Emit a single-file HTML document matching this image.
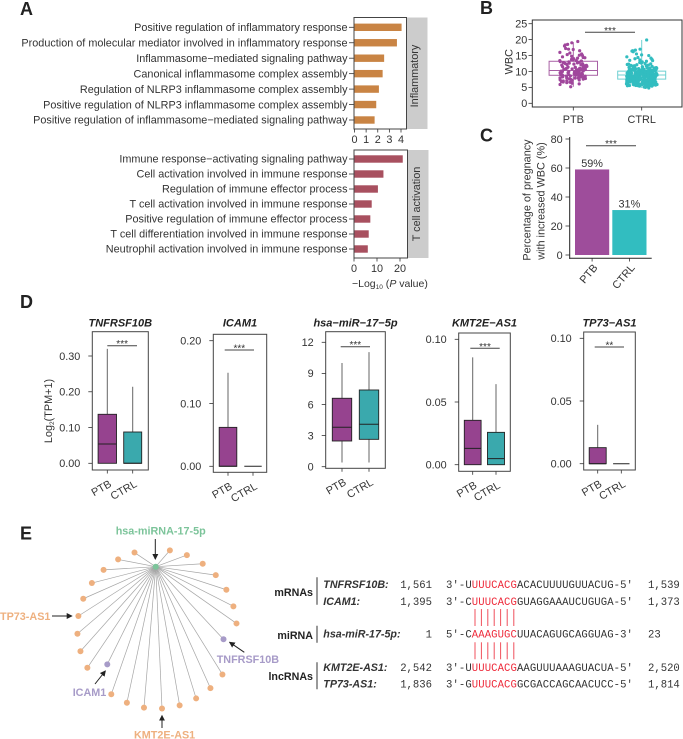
<!DOCTYPE html>
<html lang="en">
<head>
<meta charset="utf-8">
<title>Multi-panel PTB versus CTRL figure</title>
<style>
html,body{margin:0;padding:0;background:#fff}
body{width:683px;height:739px;overflow:hidden}
svg{display:block;font-family:"Liberation Sans",Arial,sans-serif}
.letter{font-size:18px;font-weight:700;fill:#222}
.netlab{font-size:10.8px;font-weight:700}
.grp{font-size:10.7px;font-weight:700;fill:#222;text-anchor:end}
.nm{font-size:10.7px;font-weight:700;font-style:italic;fill:#333}
.mono{font-family:"Liberation Mono",monospace;font-size:10.6px;fill:#333}
.seq{letter-spacing:.09px}
.red{fill:#ee2a3a}
</style>
</head>
<body>
<svg id="fig" width="683" height="739" viewBox="0 0 683 739">
  <text class="letter" x="20" y="15">A</text>
  <text class="letter" x="480" y="14">B</text>
  <text class="letter" x="480" y="141.5">C</text>
  <text class="letter" x="20" y="308">D</text>
  <text class="letter" x="20" y="539.5">E</text>

  <g id="network"></g>
  <g>
    <text class="netlab" x="160.7" y="534.5" text-anchor="middle" fill="#7cc49a">hsa-miRNA-17-5p</text>
    <text class="netlab" x="0" y="619.8" fill="#eeb07f">TP73-AS1</text>
    <text class="netlab" x="216.7" y="662.8" fill="#a79bc8">TNFRSF10B</text>
    <text class="netlab" x="72.7" y="695.8" fill="#a79bc8">ICAM1</text>
    <text class="netlab" x="134" y="738.6" fill="#eeb07f">KMT2E-AS1</text>
  </g>
  <defs>
    <marker id="ah" markerWidth="6" markerHeight="6" refX="5" refY="3" orient="auto" markerUnits="userSpaceOnUse"><path d="M0 0L6 3L0 6Z" fill="#222"/></marker>
  </defs>
  <g stroke="#222" stroke-width="1">
    <line x1="155.3" y1="539" x2="155.3" y2="559" marker-end="url(#ah)"/>
    <line x1="52" y1="616" x2="71.7" y2="616" marker-end="url(#ah)"/>
    <line x1="244.3" y1="652.3" x2="229.7" y2="642.3" marker-end="url(#ah)"/>
    <line x1="95" y1="684" x2="105.3" y2="671" marker-end="url(#ah)"/>
    <line x1="162" y1="728" x2="162" y2="715.7" marker-end="url(#ah)"/>
  </g>

  <g>
    <text class="grp" x="313" y="596">mRNAs</text>
    <text class="grp" x="313" y="639">miRNA</text>
    <text class="grp" x="313" y="680">lncRNAs</text>
    <g stroke="#333" stroke-width="1">
      <line x1="317" y1="577.3" x2="317" y2="604.7"/>
      <line x1="317" y1="625.7" x2="317" y2="642.7"/>
      <line x1="317" y1="662.3" x2="317" y2="689.3"/>
    </g>
    <text class="nm" x="323.3" y="587.8">TNFRSF10B:</text>
    <text class="nm" x="323.3" y="604.8">ICAM1:</text>
    <text class="nm" x="323.3" y="637.5">hsa-miR-17-5p:</text>
    <text class="nm" x="323.3" y="670.8">KMT2E-AS1:</text>
    <text class="nm" x="323.3" y="687.5">TP73-AS1:</text>

    <g text-anchor="end">
      <text class="mono" x="432" y="587.8">1,561</text>
      <text class="mono" x="432" y="604.8">1,395</text>
      <text class="mono" x="432" y="637.5">1</text>
      <text class="mono" x="432" y="670.8">2,542</text>
      <text class="mono" x="432" y="687.5">1,836</text>
    </g>
    <text class="mono" x="648" y="587.8">1,539</text>
    <text class="mono" x="648" y="604.8">1,373</text>
    <text class="mono" x="648" y="637.5">23</text>
    <text class="mono" x="648" y="670.8">2,520</text>
    <text class="mono" x="648" y="687.5">1,814</text>

    <text class="mono seq" x="446" y="587.8">3'-U<tspan class="red">UUUCACG</tspan>ACACUUUUGUUACUG-5'</text>
    <text class="mono seq" x="446" y="604.8">3'-C<tspan class="red">UUUCACG</tspan>GUAGGAAAUCUGUGA-5'</text>
    <text class="mono seq" x="446" y="637.5">5'-C<tspan class="red">AAAGUGC</tspan>UUACAGUGCAGGUAG-3'</text>
    <text class="mono seq" x="446" y="670.8">3'-U<tspan class="red">UUUCACG</tspan>AAGUUUAAAGUACUA-5'</text>
    <text class="mono seq" x="446" y="687.5">3'-G<tspan class="red">UUUCACG</tspan>GCGACCAGCAACUCC-5'</text>

    <g stroke="#f0505c" stroke-width="1">
      <line x1="475" y1="609" x2="475" y2="626"/><line x1="481.4" y1="609" x2="481.4" y2="626"/><line x1="487.8" y1="609" x2="487.8" y2="626"/><line x1="494.2" y1="609" x2="494.2" y2="626"/><line x1="500.6" y1="609" x2="500.6" y2="626"/><line x1="507.2" y1="609" x2="507.2" y2="626"/><line x1="513.8" y1="609" x2="513.8" y2="626"/>
    </g>
    <g stroke="#f0505c" stroke-width="1">
      <line x1="475" y1="642.3" x2="475" y2="659.3"/><line x1="481.4" y1="642.3" x2="481.4" y2="659.3"/><line x1="487.8" y1="642.3" x2="487.8" y2="659.3"/><line x1="494.2" y1="642.3" x2="494.2" y2="659.3"/><line x1="500.6" y1="642.3" x2="500.6" y2="659.3"/><line x1="507.2" y1="642.3" x2="507.2" y2="659.3"/><line x1="513.8" y1="642.3" x2="513.8" y2="659.3"/>
    </g>
  </g>
</svg>

<script>
/* ---------- Panel A data ---------- */
const inflammatoryTerms = ["Positive regulation of inflammatory response","Production of molecular mediator involved in inflammatory response","Inflammasome\u2212mediated signaling pathway","Canonical inflammasome complex assembly","Regulation of NLRP3 inflammasome complex assembly","Positive regulation of NLRP3 inflammasome complex assembly","Positive regulation of inflammasome\u2212mediated signaling pathway"];
const inflammatoryValues = [4.05,3.65,2.55,2.42,2.1,1.87,1.73];
const inflammatoryTicks = [0,1,2,3,4];
const tcellTerms = ["Immune response\u2212activating signaling pathway","Cell activation involved in immune response","Regulation of immune effector process","T cell activation involved in immune response","Positive regulation of immune effector process","T cell differentiation involved in immune response","Neutrophil activation involved in immune response"];
const tcellValues = [21.2,12.8,10.4,7.7,7.1,6.4,6.0];
const tcellTicks = [0,10,20];

/* ---------- Panel B data ---------- */
const wbcTicks = [0,5,10,15,20,25];
const wbcCategories = ["PTB","CTRL"];
const wbcQ1 = [8.8,7.6];
const wbcMedian = [10.3,8.9];
const wbcQ3 = [13.2,10.1];
const wbcLow = [5.2,4.8];
const wbcHigh = [19.2,19.9];
const ptbWbc = [19.4,19.0,18.5,18.3,18.0,17.2,17.0,16.9,16.5,16.0,15.8,15.5,15.3,15.0,14.8,14.6,14.4,14.2,14.0,13.9,13.7,13.6,13.4,13.3,13.1,13.0,12.9,12.8,12.7,12.5,12.4,12.3,12.2,12.0,11.9,11.8,11.7,11.6,11.5,11.4,11.3,11.2,11.1,11.0,10.9,10.8,10.8,10.7,10.6,10.5,10.5,10.4,10.3,10.2,10.2,10.1,10.0,10.0,9.9,9.8,9.8,9.7,9.6,9.6,9.5,9.4,9.4,9.3,9.2,9.2,9.1,9.0,9.0,8.9,8.9,8.8,8.7,8.7,8.6,8.5,8.5,8.4,8.3,8.2,8.2,8.1,8.0,8.0,7.9,7.8,7.7,7.6,7.5,7.4,7.3,7.2,7.1,7.0,6.9,6.8,6.7,6.5,6.3,6.1,5.9,5.2,11.6,12.6,10.9,9.7,8.6,13.4,11.1,9.3,7.9,10.6,12.1,14.3,8.3,6.6,15.1,10.0,11.3,9.0];
const ctrlWbc = [19.9,17.0,16.7,16.5,16.4,16.2,15.5,15.2,15.0,14.6,14.4,14.2,14.0,13.8,13.6,13.5,13.4,13.2,13.0,12.9,12.8,12.6,12.5,12.4,12.2,12.1,12.0,11.9,11.8,11.7,11.6,11.5,11.4,11.3,11.2,11.1,11.0,11.0,10.9,10.8,10.7,10.7,10.6,10.5,10.5,10.4,10.3,10.3,10.2,10.2,10.1,10.1,10.0,10.0,9.9,9.9,9.8,9.8,9.7,9.7,9.6,9.6,9.5,9.5,9.4,9.4,9.3,9.3,9.2,9.2,9.1,9.1,9.0,9.0,8.9,8.9,8.9,8.8,8.8,8.7,8.7,8.6,8.6,8.5,8.5,8.5,8.4,8.4,8.3,8.3,8.2,8.2,8.2,8.1,8.1,8.0,8.0,7.9,7.9,7.8,7.8,7.8,7.7,7.7,7.6,7.6,7.5,7.5,7.4,7.4,7.3,7.3,7.2,7.2,7.1,7.1,7.0,7.0,6.9,6.9,6.8,6.8,6.7,6.7,6.6,6.6,6.5,6.5,6.4,6.4,6.3,6.3,6.2,6.2,6.1,6.1,6.0,6.0,5.9,5.8,5.7,5.6,5.5,5.4,5.3,5.2,5.1,5.0,4.8,9.0,8.6,9.4,8.2,7.6,10.2,7.2,6.8,9.8,8.8,7.4,8.4,6.4,9.2,7.8,6.0,10.6,8.0,7.0,9.6,8.3,5.6,11.2,7.5,9.1,6.6,8.7,10.0,6.2,8.9,7.7,9.3,6.9,8.5,7.3,9.7,6.3,8.1,7.9,9.5,5.9,8.6,7.1,10.4,6.7,8.8,7.5,9.9,6.1,8.2,10.8,7.4,9.0,6.5,8.4,7.6,9.2,5.7,11.6,8.0,6.8,9.1,7.2,8.5,5.8,10.3,7.7,6.4,9.4,8.1,6.0,8.9,7.3,10.1,5.5,8.3,6.6,9.7,7.9,6.2,8.7,7.0,9.3,5.9,10.5,7.5,6.9,8.0,9.0,6.3,7.8,8.6,5.6,9.5,7.1,10.7,6.7,8.2,7.4,9.8,6.1,8.8,7.6,5.7,9.2,6.5,8.4,10.0,7.2,6.0,9.6,7.7,8.5,5.4,6.8,9.1,7.3,10.9,8.1,6.2,8.9,7.0,9.4,5.8,7.9,8.3,6.6,11.0,7.5,9.9,6.4,8.6,7.1,5.6,10.2,8.0,6.9,9.3,7.6,8.7,6.1,11.4,7.4,9.0,5.9,8.2,6.7,9.7,7.8,6.3,8.4,10.4,7.2,5.5,9.5,8.8,6.5,7.0,12.3,9.2,6.0,8.5,7.7,10.6,6.8,8.1,5.7,9.8,7.3,8.9,11.8,6.2,7.5,9.4,8.3,6.6,10.1];

/* ---------- Panel C data ---------- */
const pctCategories = ["PTB","CTRL"];
const pctValues = [59,31];
const pctLabels = ["59%","31%"];
const pctTicks = [0,20,40,60,80];

/* ---------- Panel D data ---------- */
const geneTitles = ["TNFRSF10B","ICAM1","hsa\u2212miR\u221217\u22125p","KMT2E\u2212AS1","TP73\u2212AS1"];
const geneTickValues = [[0,0.1,0.2,0.3],[0,0.1,0.2],[0,3,6,9,12],[0,0.05,0.1],[0,0.05,0.1]];
const geneTickLabels = [["0.00","0.10","0.20","0.30"],["0.00","0.10","0.20"],["0","3","6","9","12"],["0.00","0.05","0.10"],["0.00","0.05","0.10"]];
const geneStars = ["***","***","***","***","**"];
const geneQ1 = [[0,0],[0,0],[2.48,2.64],[0,0],[0,0]];
const geneMedian = [[0.054,0],[0,0],[3.8,4.1],[0.013,0.0048],[0,0]];
const geneQ3 = [[0.137,0.0875],[0.062,0],[6.6,7.4],[0.0354,0.0258],[0.0128,0]];
const geneLow = [[0,0],[0,0],[0.4,0.4],[0,0],[0,0]];
const geneHigh = [[0.32,0.214],[0.149,0],[10,11.05],[0.0856,0.0643],[0.031,0]];

/* ---------- Panel E data (clockwise degrees from top, and ring radius) ---------- */
const nodeAngles = [-16.4,9.3,22,35,47.5,60.5,73.5,86,98.8,124.8,137.9,150.6,163.5,176.4,189.4,202.2,215,234.6,240.9,253.8,266.6,279.4,292.3,305.2,317.9,330.8];
const nodeRadii = [79.7,79.7,79.7,79.7,79.7,79.7,79.7,79.7,67.3,79.7,79.7,79.7,79.7,79.7,79.7,79.7,79.7,61,79.7,79.7,79.7,79.7,79.7,79.7,79.7,79.7];
const nodeKinds = ["l","l","l","l","l","l","l","l","m","l","l","l","l","l","l","l","l","m","l","l","l","l","l","l","l","l"];

/* ---------- Primitives ---------- */
const NS = "http://www.w3.org/2000/svg";
const fig = document.getElementById("fig");
const INK = "#333";
function makeLine(p,x1,y1,x2,y2,stroke,w,name){
  const el = document.createElementNS(NS,"line");
  el.setAttribute("x1",x1); el.setAttribute("y1",y1); el.setAttribute("x2",x2); el.setAttribute("y2",y2);
  el.setAttribute("stroke",stroke); el.setAttribute("stroke-width",w);
  
  
  p.appendChild(el); return el;
}
function makeRect(p,x,y,w,h,fill,stroke,sw,name){
  const el = document.createElementNS(NS,"rect");
  el.setAttribute("x",x); el.setAttribute("y",y); el.setAttribute("width",w); el.setAttribute("height",h);
  el.setAttribute("fill",fill); el.setAttribute("stroke",stroke); el.setAttribute("stroke-width",sw);
  
  
  p.appendChild(el); return el;
}
function makeText(p,x,y,str,anchor,size,name,extra){
  const el = document.createElementNS(NS,"text");
  el.setAttribute("x",x); el.setAttribute("y",y);
  el.setAttribute("text-anchor",anchor); el.setAttribute("font-size",size); el.setAttribute("fill",INK);
  if(extra){ for(const k in extra){ el.setAttribute(k,extra[k]); } }
  el.textContent = str;
  
  
  p.appendChild(el); return el;
}
function makeDot(p,x,y,r,fill,name){
  const el = document.createElementNS(NS,"circle");
  el.setAttribute("cx",x); el.setAttribute("cy",y); el.setAttribute("r",r); el.setAttribute("fill",fill);
  
  
  p.appendChild(el); return el;
}
function makeGroup(p,name){
  const el = document.createElementNS(NS,"g");
  
  
  p.appendChild(el); return el;
}
function linear(d0,r0,d1,r1){ return v => r0 + (v-d0)*(r1-r0)/(d1-d0); }
const TS = 10.85;

/* ---------- Panel A ---------- */
function drawFacet(key,terms,values,ticks,color,box,rowTop,rowStep,x,strip,stripX,stripY){
  const g = makeGroup(fig,"panel-a-"+key);
  makeRect(g,box.r+0.5,box.t,20.5,box.b-box.t,"#cccccc","none",0,"strip-"+key);
  values.forEach((v,i)=>{
    const y = rowTop + i*rowStep;
    makeRect(g,x(0),y-3.7,x(v)-x(0),7.4,color,"none",0,"bar-"+key+"-"+i);
    makeLine(g,box.l-5,y,box.l,y,INK,0.8,"y-tick-"+key+"-"+i);
    makeText(g,box.l-6.5,y+3.7,terms[i],"end",TS,"term-label-"+key+"-"+i);
  });
  makeRect(g,box.l,box.t,box.r-box.l,box.b-box.t,"none","#444",1,"plot-border-"+key);
  ticks.forEach(t=>{
    makeLine(g,x(t),box.b,x(t),box.b+3.5,INK,0.8,"x-tick-"+key+"-"+t);
    makeText(g,x(t),box.b+14,String(t),"middle",TS,"x-tick-label-"+key+"-"+t);
  });
  makeText(g,stripX,stripY,strip,"middle",TS,"strip-label-"+key,{transform:"rotate(-90 "+stripX+" "+stripY+")"});
}
drawFacet("inflammatory",inflammatoryTerms,inflammatoryValues,inflammatoryTicks,"#c98444",{l:354,r:406.5,t:17.5,b:129},27.3,15.45,linear(0,354.5,4,401),"Inflammatory",418,76);
drawFacet("tcell",tcellTerms,tcellValues,tcellTicks,"#a8505f",{l:354,r:407.5,t:150,b:258},159,15,linear(0,354,20,400),"T cell activation",420,204);
(function(){
  const el = makeText(fig,352,287,"\u2212Log","start",10.5,"x-axis-title-panel-a");
  const s1 = document.createElementNS(NS,"tspan"); s1.setAttribute("font-size","6.5"); s1.setAttribute("dy","2"); s1.textContent="10"; el.appendChild(s1);
  const s2 = document.createElementNS(NS,"tspan"); s2.setAttribute("dy","-2"); s2.textContent=" ("; el.appendChild(s2);
  const s3 = document.createElementNS(NS,"tspan"); s3.setAttribute("font-style","italic"); s3.textContent="P"; el.appendChild(s3);
  const s4 = document.createElementNS(NS,"tspan"); s4.textContent=" value)"; el.appendChild(s4);
})();

/* ---------- Sig bracket ---------- */
function drawSig(g,x1,x2,y,stars,key){
  makeLine(g,x1,y,x2,y,"#444",1,"significance-line-"+key);
  makeText(g,(x1+x2)/2,y+1.5,stars,"middle",10,"significance-stars-"+key);
}

/* ---------- Panel B ---------- */
(function(){
  const g = makeGroup(fig,"panel-b-wbc-boxplot");
  const y = linear(0,103.3,25,23.7);
  const cx = [573.3,641.7];
  const hw = [24.2,24];
  const cols = ["#a0479c","#32bdc0"];
  const lite = ["#a860a5","#6fd0d2"];
  const spread = [14,15.5];
  wbcCategories.forEach((c,i)=>{
    makeLine(g,cx[i],y(wbcLow[i]),cx[i],y(wbcHigh[i]),lite[i],1,"whisker-"+c);
    makeRect(g,cx[i]-hw[i],y(wbcQ3[i]),2*hw[i],y(wbcQ1[i])-y(wbcQ3[i]),"#fff",lite[i],1,"box-"+c);
    makeLine(g,cx[i]-hw[i],y(wbcMedian[i]),cx[i]+hw[i],y(wbcMedian[i]),lite[i],1,"median-"+c);
  });
  [ptbWbc,ctrlWbc].forEach((arr,s)=>{
    arr.forEach((v,i)=>{
      const frac = (i*0.7548 + i*i*0.0317 + 0.66)%1;
      const jit = (frac-0.5)*2*spread[s];
      makeDot(g,cx[s]+jit,y(v),1.6,cols[s],"point-"+wbcCategories[s]+"-"+i);
    });
  });
  makeRect(g,532.3,20,149.7,87,"none","#333",1,"plot-border-b");
  wbcTicks.forEach(t=>{
    makeLine(g,528.5,y(t),532.3,y(t),INK,0.8,"y-tick-b-"+t);
    makeText(g,527.3,y(t)+3.8,String(t),"end",TS,"y-tick-label-b-"+t);
  });
  wbcCategories.forEach((c,i)=>{
    makeLine(g,cx[i],107,cx[i],110.5,INK,0.8,"x-tick-b-"+c);
    makeText(g,cx[i],122.8,c,"middle",TS,"x-tick-label-b-"+c);
  });
  makeText(g,512.5,61.7,"WBC","middle",TS,"y-axis-title-b",{transform:"rotate(-90 512.5 61.7)"});
  drawSig(g,585,635,32.3,"***","b");
})();

/* ---------- Panel C ---------- */
(function(){
  const g = makeGroup(fig,"panel-c-percentage-bars");
  const y = linear(0,255,80,139);
  const left = [575,612.3];
  const w = 34.2;
  const cols = ["#9e4d9b","#32bdc0"];
  pctValues.forEach((v,i)=>{
    makeRect(g,left[i],y(v),w,y(0)-y(v),cols[i],"none",0,"bar-"+pctCategories[i]);
    makeText(g,left[i]+w/2,y(v)-2.5,pctLabels[i],"middle",TS,"bar-value-"+pctCategories[i]);
    const c = left[i]+w/2;
    makeLine(g,c,258.3,c,261.5,INK,0.8,"x-tick-c-"+pctCategories[i]);
    makeText(g,c+6,268,pctCategories[i],"end",TS,"x-tick-label-c-"+pctCategories[i],{transform:"rotate(-50 "+(c+6)+" 268)"});
  });
  makeLine(g,569.7,137,569.7,258.8,"#222",1,"y-axis-c");
  makeLine(g,569.2,258.3,651.7,258.3,"#222",1,"x-axis-c");
  pctTicks.forEach(t=>{
    makeLine(g,565.5,y(t),569.7,y(t),INK,0.8,"y-tick-c-"+t);
    makeText(g,562.7,y(t)+3.8,String(t),"end",TS,"y-tick-label-c-"+t);
  });
  makeText(g,530.5,200,"Percentage of pregnancy","middle",TS,"y-axis-title-c-line-1",{transform:"rotate(-90 530.5 200)"});
  makeText(g,544.5,201,"with increased WBC (%)","middle",TS,"y-axis-title-c-line-2",{transform:"rotate(-90 544.5 201)"});
  drawSig(g,586,636,145.7,"***","c");
})();

/* ---------- Panel D ---------- */
const geneFrames = [
 {l:92.3,r:148.3,t:331.7,b:470,y0:463.3,yv:0.3,y1:356,cx:[107.3,132.7],hw:[9.2,9],sig:[107.3,137,345.7]},
 {l:213.3,r:266.7,t:334.3,b:472.3,y0:466.3,yv:0.2,y1:340.7,cx:[228,253],hw:[8.8,8.7],sig:[224.7,254,350]},
 {l:325.7,r:385.3,t:331.7,b:468.3,y0:466.7,yv:12,y1:342.3,cx:[342,369],hw:[9.7,9.7],sig:[340.7,370,346.7]},
 {l:458.7,r:510.3,t:333,b:471.3,y0:464.7,yv:0.1,y1:339.3,cx:[472.7,496],hw:[8.4,8.5],sig:[470.3,499.7,348.3]},
 {l:583.7,r:635.3,t:332,b:470,y0:463.7,yv:0.1,y1:338.3,cx:[597.7,621.3],hw:[8.5,8.2],sig:[594.7,624,347]}
];
const boxFill = ["#96438f","#3aa9ad"];
const boxCats = ["PTB","CTRL"];
geneTitles.forEach((title,n)=>{
  const f = geneFrames[n];
  const g = makeGroup(fig,"panel-d-boxplot-"+n);
  const y = linear(0,f.y0,f.yv,f.y1);
  makeText(g,(f.l+f.r)/2,326.5,title,"middle",11,"gene-title-"+n,{"font-weight":"700","font-style":"italic","fill":"#222"});
  boxCats.forEach((c,i)=>{
    const cx = f.cx[i], hw = f.hw[i];
    const flat = geneQ3[n][i] === geneQ1[n][i];
    if(!flat){
      makeLine(g,cx,y(geneLow[n][i]),cx,y(geneHigh[n][i]),"#666",1,"whisker-"+n+"-"+c);
      makeRect(g,cx-hw,y(geneQ3[n][i]),2*hw,y(geneQ1[n][i])-y(geneQ3[n][i]),boxFill[i],"#222",0.9,"box-"+n+"-"+c);
    }
    makeLine(g,cx-hw,y(geneMedian[n][i]),cx+hw,y(geneMedian[n][i]),"#222",1,"median-"+n+"-"+c);
    makeLine(g,cx,f.b,cx,f.b+3.5,INK,0.8,"x-tick-d-"+n+"-"+c);
    const ax = cx+5, ay = f.b+16;
    makeText(g,ax,ay,c,"end",TS,"x-tick-label-d-"+n+"-"+c,{transform:"rotate(-30 "+ax+" "+ay+")"});
  });
  makeRect(g,f.l,f.t,f.r-f.l,f.b-f.t,"none","#444",1,"plot-border-d-"+n);
  geneTickValues[n].forEach((t,k)=>{
    makeLine(g,f.l-4,y(t),f.l,y(t),INK,0.8,"y-tick-d-"+n+"-"+k);
    makeText(g,f.l-12,y(t)+3.8,geneTickLabels[n][k],"end",TS,"y-tick-label-d-"+n+"-"+k);
  });
  drawSig(g,f.sig[0],f.sig[1],f.sig[2],geneStars[n],"d-"+n);
});
(function(){
  const el = makeText(fig,52,411,"Log","middle",TS,"y-axis-title-d",{transform:"rotate(-90 52 411)"});
  const s1 = document.createElementNS(NS,"tspan"); s1.setAttribute("font-size","6.5"); s1.setAttribute("dy","2"); s1.textContent="2"; el.appendChild(s1);
  const s2 = document.createElementNS(NS,"tspan"); s2.setAttribute("dy","-2"); s2.textContent="(TPM+1)"; el.appendChild(s2);
})();

/* ---------- Panel E ---------- */
(function(){
  const g = document.getElementById("network");
  const hub = {x:155.7,y:566.7}, c = {x:157,y:629};
  const colours = {l:"#eeb07f",m:"#a79bc8"};
  const pos = nodeAngles.map((a,i)=>{
    const t = a*Math.PI/180;
    return {x:c.x+nodeRadii[i]*Math.sin(t), y:c.y-nodeRadii[i]*Math.cos(t)};
  });
  pos.forEach((p,i)=>{ makeLine(g,hub.x,hub.y,p.x,p.y,"#a5a5a5",0.7,"network-edge-"+i); });
  pos.forEach((p,i)=>{ makeDot(g,p.x,p.y,3,colours[nodeKinds[i]],"network-node-"+i); });
  makeDot(g,hub.x,hub.y,3,"#7cc49a","network-hub-mirna");
})();
</script>
</body>
</html>
